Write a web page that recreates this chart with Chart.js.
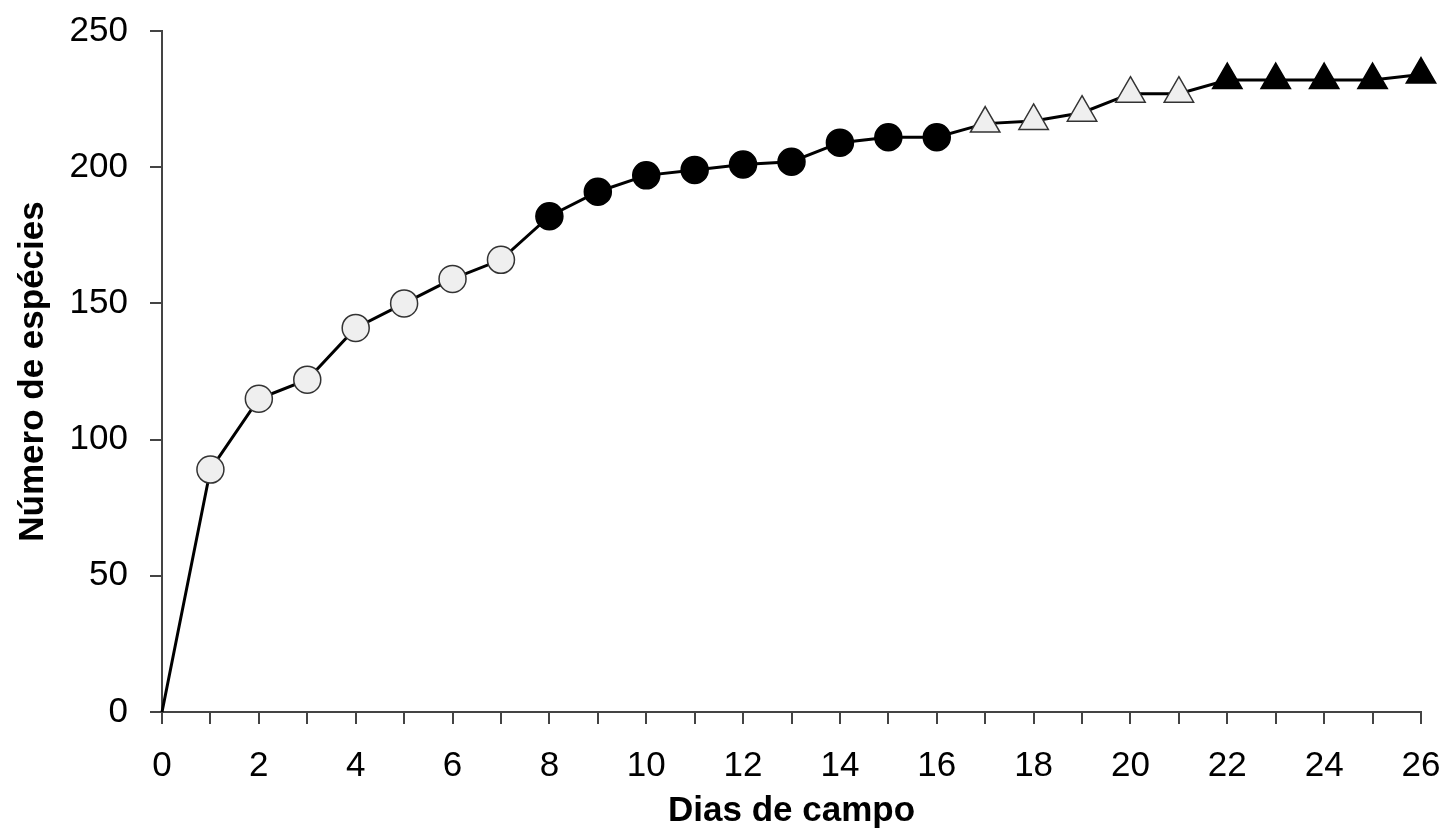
<!DOCTYPE html>
<html lang="pt">
<head>
    <meta charset="UTF-8">
    <title>Número de espécies por dias de campo</title>
    <style>
        html, body {
            margin: 0;
            padding: 0;
            background: #fff;
            overflow: hidden;
        }
        .chart-container {
            position: relative;
            width: 1446px;
            height: 833px;
        }
    </style>
    <script src="https://cdn.jsdelivr.net/npm/chart.js"></script>
</head>
<body>
    <div class="chart-container">
        <canvas id="speciesChart"></canvas>
    </div>
    <script>
        // days in the field and cumulative number of species
        const days = [0, 1, 2, 3, 4, 5, 6, 7, 8, 9, 10, 11, 12, 13, 14, 15, 16, 17, 18, 19, 20, 21, 22, 23, 24, 25, 26];
        const species = [0, 89, 115, 122, 141, 150, 159, 166, 182, 191, 197, 199, 201, 202, 209, 211, 211, 216, 217, 220, 227, 227, 232, 232, 232, 232, 234];
        // marker group per day: none, open circle, filled circle, open triangle, filled triangle
        const markerGroup = ["none", "oc", "oc", "oc", "oc", "oc", "oc", "oc", "fc", "fc", "fc", "fc", "fc", "fc", "fc", "fc", "fc",
            "ot", "ot", "ot", "ot", "ot", "ft", "ft", "ft", "ft", "ft"];
        const yTicks = [0, 50, 100, 150, 200, 250];

        const points = days.map((d, i) => ({ x: d, y: species[i] }));

        const isTri = g => g === "ot" || g === "ft";
        const styleOf = g => isTri(g) ? "triangle" : "circle";
        const radiusOf = g => g === "none" ? 0 : isTri(g) ? 17 : 13.5;
        const fillOf = g => (g === "fc" || g === "ft") ? "#000" : "#efefef";
        const edgeOf = g => (g === "fc" || g === "ft") ? "#000" : "#333";

        const FONT = "'Liberation Sans', Arial, sans-serif";

        const ctx = document.getElementById("speciesChart").getContext("2d");
        const chart = new Chart(ctx, {
            type: "line",
            data: {
                datasets: [
                    {
                        data: points,
                        borderColor: "#000",
                        borderWidth: 3,
                        tension: 0,
                        clip: false,
                        pointStyle: markerGroup.map(styleOf),
                        pointRadius: markerGroup.map(radiusOf),
                        pointBackgroundColor: markerGroup.map(fillOf),
                        pointBorderColor: markerGroup.map(edgeOf),
                        pointBorderWidth: 1.5,
                    },
                ],
            },
            options: {
                responsive: true,
                maintainAspectRatio: false,
                animation: false,
                layout: {
                    padding: { top: 31, right: 25, left: 0, bottom: 4 },
                },
                plugins: {
                    legend: { display: false },
                    tooltip: { enabled: false },
                },
                scales: {
                    x: {
                        type: "linear",
                        min: 0,
                        max: 26,
                        afterFit: s => {
                            s.height = 117;
                            s.paddingLeft = 0;
                            s.paddingRight = 0;
                        },
                        ticks: {
                            stepSize: 1,
                            autoSkip: false,
                            maxRotation: 0,
                            padding: 21,
                            color: "#000",
                            font: { family: FONT, size: 35 },
                            callback: v => (v % 2 === 0 ? String(v) : ""),
                        },
                        grid: {
                            drawOnChartArea: false,
                            drawTicks: true,
                            tickLength: 12,
                            color: "#444",
                            lineWidth: 2,
                        },
                        border: { display: true, color: "#444", width: 2 },
                        title: {
                            display: true,
                            text: "Dias de campo",
                            color: "#000",
                            font: { family: FONT, size: 35, weight: "bold", lineHeight: 1 },
                            padding: 0,
                        },
                    },
                    y: {
                        min: 0,
                        max: 250,
                        afterFit: s => {
                            s.width = 162;
                            s.paddingTop = 0;
                            s.paddingBottom = 0;
                        },
                        afterBuildTicks: s => { s.ticks = yTicks.map(v => ({ value: v })); },
                        ticks: {
                            padding: 22,
                            color: "#000",
                            font: { family: FONT, size: 35 },
                        },
                        grid: {
                            drawOnChartArea: false,
                            drawTicks: true,
                            tickLength: 12,
                            color: "#444",
                            lineWidth: 2,
                        },
                        border: { display: true, color: "#444", width: 2 },
                        title: {
                            display: true,
                            text: "Número de espécies",
                            color: "#000",
                            font: { family: FONT, size: 35, weight: "bold" },
                            padding: { top: 12, bottom: 4 },
                        },
                    },
                },
            },
        });
    </script>
</body>
</html>
